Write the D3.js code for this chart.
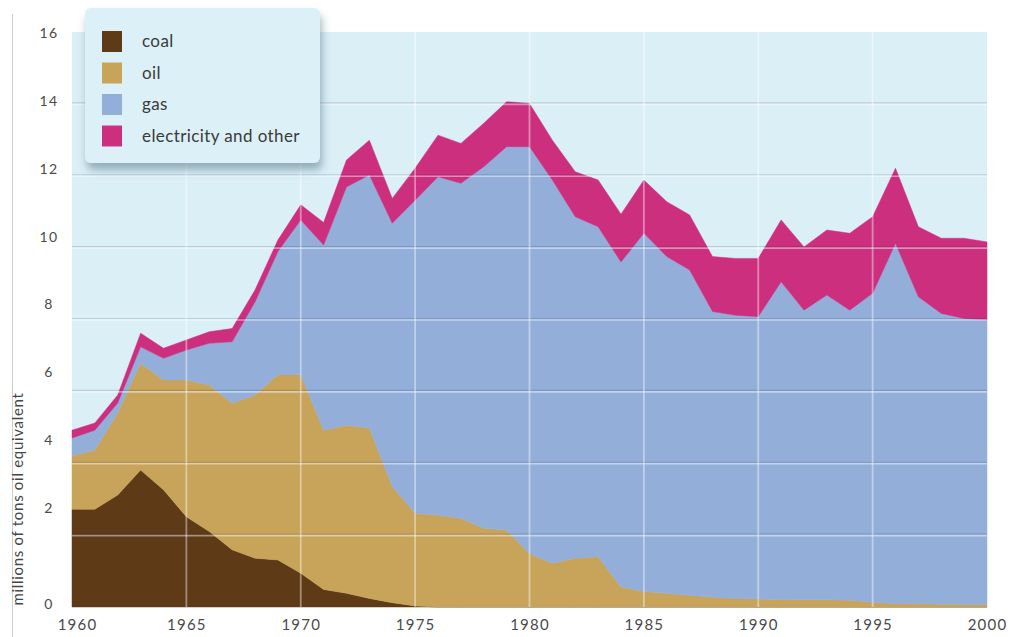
<!DOCTYPE html>
<head>
    <meta charset="utf-8">
    <title>Energy use by source, 1960-2000</title>
    <script src="https://cdn.jsdelivr.net/npm/d3@7/dist/d3.min.js"></script>
</head>
<style>
body {
  margin: 0;
  background: #fff;
  font-family: "Lato", "Open Sans", "DejaVu Sans", sans-serif;
}
svg { display: block; }
</style>
<body>
    <svg></svg>
</body>

<script>

    // Data (millions of tons oil equivalent)
    var years = [1960, 1961, 1962, 1963, 1964, 1965, 1966, 1967, 1968, 1969,
                 1970, 1971, 1972, 1973, 1974, 1975, 1976, 1977, 1978, 1979,
                 1980, 1981, 1982, 1983, 1984, 1985, 1986, 1987, 1988, 1989,
                 1990, 1991, 1992, 1993, 1994, 1995, 1996, 1997, 1998, 1999, 2000];

    var coal = [2.72, 2.72, 3.12, 3.81, 3.26, 2.51, 2.10, 1.59, 1.36, 1.31,
                0.94, 0.49, 0.38, 0.24, 0.12, 0.03, 0, 0, 0, 0,
                0, 0, 0, 0, 0, 0, 0, 0, 0, 0,
                0, 0, 0, 0, 0, 0, 0, 0, 0, 0, 0];

    var oil = [1.48, 1.65, 2.28, 2.97, 3.06, 3.81, 4.08, 4.08, 4.54, 5.15,
               5.52, 4.43, 4.68, 4.74, 3.23, 2.58, 2.56, 2.47, 2.19, 2.14,
               1.49, 1.22, 1.36, 1.40, 0.56, 0.43, 0.38, 0.33, 0.27, 0.24,
               0.22, 0.21, 0.20, 0.20, 0.19, 0.13, 0.10, 0.09, 0.08, 0.07, 0.07];

    var gas = [0.50, 0.55, 0.28, 0.46, 0.60, 0.83, 1.16, 1.71, 2.59, 3.43,
               4.31, 5.15, 6.63, 7.04, 7.33, 8.71, 9.41, 9.32, 10.06, 10.67,
               11.32, 10.66, 9.50, 9.18, 9.04, 9.97, 9.37, 9.05, 7.95, 7.88,
               7.86, 8.84, 8.06, 8.48, 8.07, 8.60, 10.02, 8.54, 8.09, 7.96, 7.92];

    var electricity = [0.22, 0.20, 0.22, 0.38, 0.28, 0.28, 0.32, 0.37, 0.33, 0.32,
                       0.42, 0.63, 0.75, 0.97, 0.69, 0.89, 1.16, 1.11, 1.21, 1.25,
                       1.20, 1.11, 1.25, 1.30, 1.33, 1.48, 1.53, 1.53, 1.53, 1.58,
                       1.62, 1.72, 1.76, 1.81, 2.14, 2.13, 2.09, 1.95, 2.09, 2.23, 2.17];

    var keys = ["coal", "oil", "gas", "electricity"];
    var legendLabels = ["coal", "oil", "gas", "electricity and other"];
    var xTicks = [1960, 1965, 1970, 1975, 1980, 1985, 1990, 1995, 2000];
    var yTicks = [0, 2, 4, 6, 8, 10, 12, 14, 16];
    var yTitle = "millions of tons oil equivalent";

    // Variables
    var width = 1013;
    var height = 637;
    var color = d3.scaleOrdinal()
        .domain(keys)
        .range(["#5f3a17", "#c8a45b", "#93afd9", "#cd2f7f"]);

    // build rows for the stack
    var rows = years.map(function (y, i) {
        return { year: y, coal: coal[i], oil: oil[i], gas: gas[i], electricity: electricity[i] };
    });

    var svg = d3.select('svg')
        .attr('width', width)
        .attr('height', height);

    // drop shadow for the legend box
    var filter = svg.append("defs").append("filter")
        .attr("id", "shadow")
        .attr("x", "-10%").attr("y", "-10%")
        .attr("width", "125%").attr("height", "140%");
    filter.append("feDropShadow")
        .attr("dx", 2).attr("dy", 7)
        .attr("stdDeviation", 4)
        .attr("flood-color", "#3d5f70")
        .attr("flood-opacity", 0.45);

    // Scales
    var x = d3.scaleLinear().domain([1960, 2000]).range([72, 987]);
    var y = d3.scaleLinear().domain([0, 16]).range([607, 32]);
    // the printed tick labels sit a bit off the gridlines in the original
    var yLabel = d3.scaleLinear().domain([0, 2, 16]).range([604, 508, 33]);

    // thin rule down the left side
    svg.append("line")
        .attr("x1", 12.5).attr("x2", 12.5)
        .attr("y1", 14).attr("y2", height)
        .style("stroke", "#cfcfcf")
        .style("stroke-width", 1);

    // plot background
    svg.append("rect")
        .attr("x", x(1960)).attr("y", y(16))
        .attr("width", x(2000) - x(1960))
        .attr("height", y(0) - y(16))
        .style("fill", "#dbeff7");

    // Stacked areas
    var series = d3.stack().keys(keys)(rows);

    var area = d3.area()
        .x(function (d) { return x(d.data.year); })
        .y0(function (d) { return y(d[0]); })
        .y1(function (d) { return y(d[1]); });

    svg.append("g").selectAll("path")
        .data(series)
        .enter().append("path")
        .attr("d", area)
        .style("fill", function (d) { return color(d.key); })
        .style("stroke", function (d) { return color(d.key); })
        .style("stroke-width", 0.5);

    // Gridlines, drawn over the areas like the embossed lines of the original
    var grid = svg.append("g");
    grid.selectAll(".hdark")
        .data(yTicks.filter(function (v) { return v > 0 && v < 16; }))
        .enter().append("line")
        .attr("x1", x(1960)).attr("x2", x(2000))
        .attr("y1", function (d) { return y(d) - 1; })
        .attr("y2", function (d) { return y(d) - 1; })
        .style("stroke", "rgba(20,50,80,0.18)")
        .style("stroke-width", 1.2);
    grid.selectAll(".hlight")
        .data(yTicks.filter(function (v) { return v > 0 && v < 16; }))
        .enter().append("line")
        .attr("x1", x(1960)).attr("x2", x(2000))
        .attr("y1", function (d) { return y(d) + 0.5; })
        .attr("y2", function (d) { return y(d) + 0.5; })
        .style("stroke", "rgba(255,255,255,0.45)")
        .style("stroke-width", 1.6);
    grid.selectAll(".vline")
        .data(xTicks.filter(function (v) { return v > 1960 && v < 2000; }))
        .enter().append("line")
        .attr("x1", function (d) { return x(d); })
        .attr("x2", function (d) { return x(d); })
        .attr("y1", y(16)).attr("y2", y(0))
        .style("stroke", "rgba(255,255,255,0.42)")
        .style("stroke-width", 1.8);

    // Axes
    var xAxis = svg.append("g")
        .attr("transform", "translate(0," + 619 + ")")
        .call(d3.axisBottom(x).tickValues(xTicks).tickFormat(d3.format("d")).tickSize(0).tickPadding(0));
    xAxis.select(".domain").remove();
    xAxis.selectAll("text")
        .style("font-size", "15px")
        .style("letter-spacing", "1.2px")
        .style("fill", "#4a4a4a")
        .style("font-family", "Lato, 'Open Sans', sans-serif");
    xAxis.selectAll(".tick").filter(function (d) { return d === 1960; })
        .select("text").attr("x", 5);

    var yAxis = svg.append("g")
        .attr("transform", "translate(" + 59 + ",0)")
        .call(d3.axisLeft(yLabel).tickValues(yTicks).tickSize(0).tickPadding(0));
    yAxis.select(".domain").remove();
    yAxis.selectAll("text")
        .attr("text-anchor", "middle")
        .attr("x", -10)
        .style("font-size", "14px")
        .style("letter-spacing", "1.5px")
        .style("fill", "#4a4a4a")
        .style("font-family", "Lato, 'Open Sans', sans-serif");

    // Axis title
    svg.append("text")
        .attr("transform", "translate(23," + 499 + ")rotate(-90)")
        .attr("text-anchor", "middle")
        .style("font-size", "15px")
        .style("letter-spacing", "0.7px")
        .style("fill", "#454545")
        .text(yTitle);

    // Legend
    var legend = svg.append("g").attr("transform", "translate(85,8)");
    legend.append("rect")
        .attr("width", 235).attr("height", 155)
        .attr("rx", 6).attr("ry", 6)
        .style("fill", "#dcf0f8")
        .attr("filter", "url(#shadow)");

    var item = legend.selectAll(".item")
        .data(keys)
        .enter().append("g")
        .attr("class", "item")
        .attr("transform", function (d, i) { return "translate(17," + (23 + i * 31.5) + ")"; });
    item.append("rect")
        .attr("width", 20).attr("height", 21)
        .style("fill", function (d) { return color(d); });
    item.append("text")
        .attr("x", 40).attr("y", 11)
        .attr("dy", "0.3em")
        .style("font-size", "17px")
        .style("letter-spacing", "0.4px")
        .style("fill", "#3a3a3a")
        .text(function (d, i) { return legendLabels[i]; });

</script>
